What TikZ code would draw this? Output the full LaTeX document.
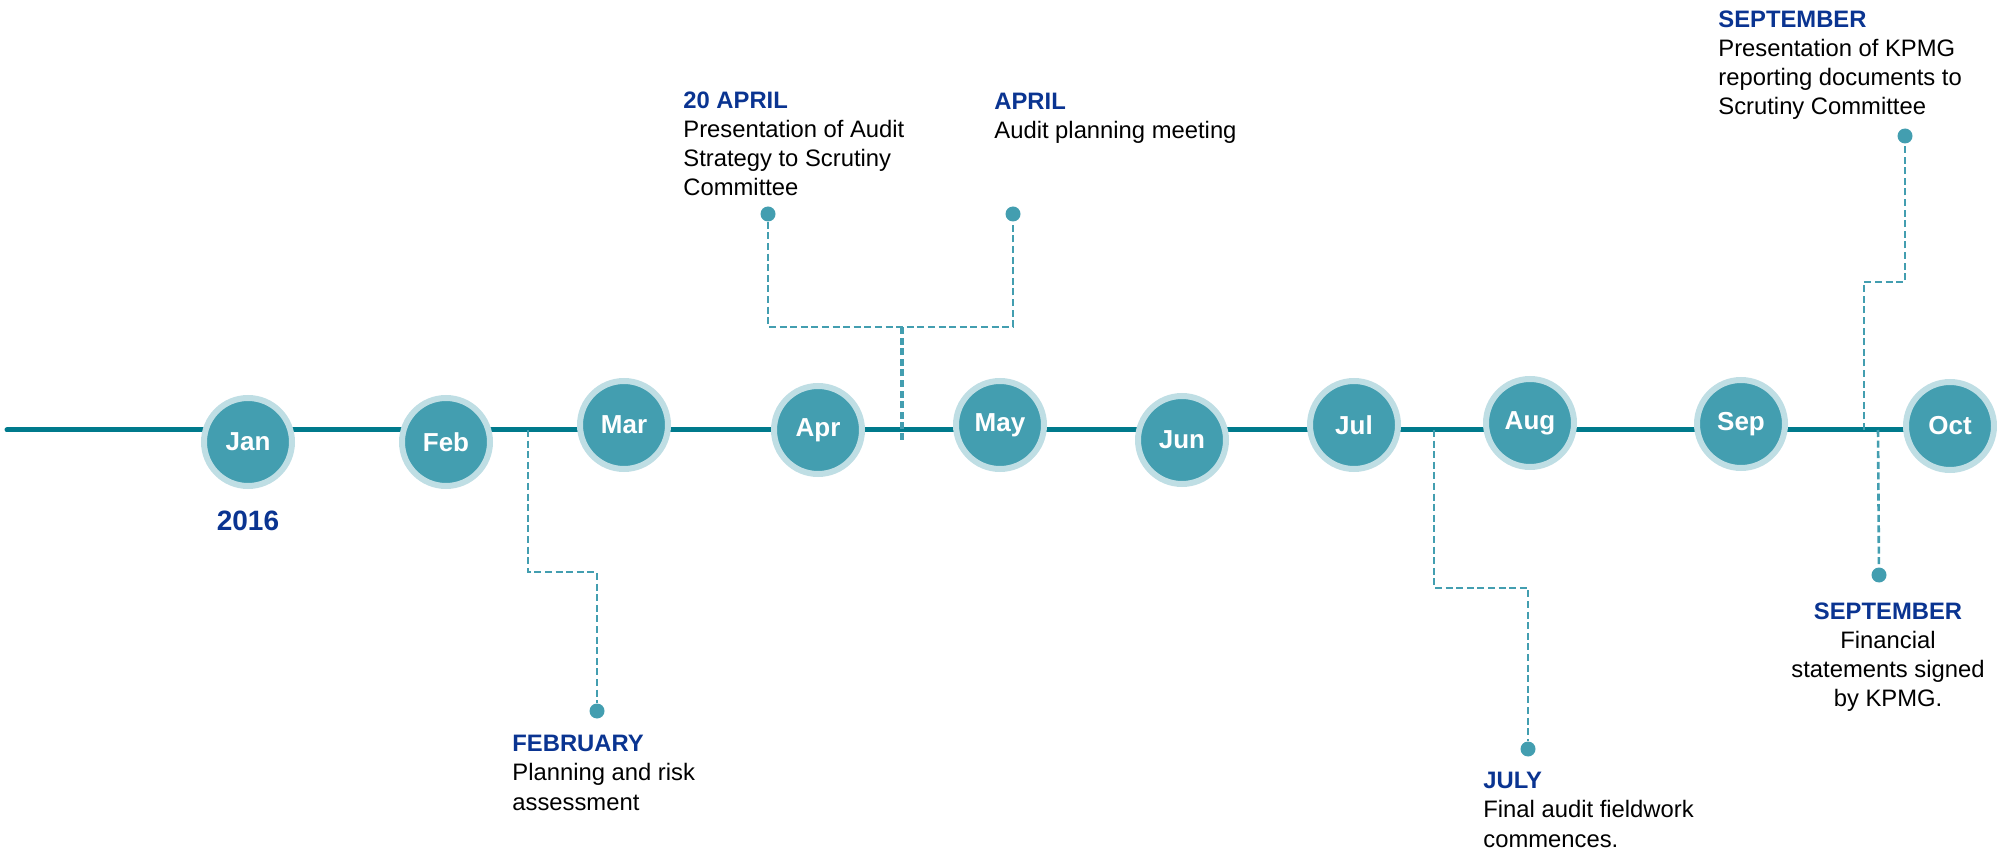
\documentclass[tikz,border=0pt]{standalone}
\usepackage{fontspec}
\setmainfont{Liberation Sans}
\usetikzlibrary{positioning}
\definecolor{lineteal}{RGB}{0,122,140}
\definecolor{monthfill}{RGB}{67,158,176}
\definecolor{monthring}{RGB}{191,222,228}
\definecolor{headblue}{RGB}{10,52,145}
\begin{document}
\begin{tikzpicture}[x=0.5pt, y=-0.5pt]
\tikzstyle{month} = [circle, minimum size=44pt, inner sep=0pt, fill=monthfill, draw=monthring, line width=3pt, text=white, font=\fontsize{13}{15}\selectfont\bfseries]
\tikzstyle{dot} = [circle, minimum size=7.5pt, inner sep=0pt, fill=monthfill]
\tikzstyle{link} = [draw=monthfill, line width=1.3pt, dash pattern=on 3.5pt off 1.8pt]
\tikzstyle{event} = [inner sep=0pt, align=left, font=\fontsize{11.9}{14.6}\selectfont]
\useasboundingbox (0,0) rectangle (1997,855);
\coordinate (start) at (7,430);
\coordinate (stop) at (1950,430);
\draw[lineteal, line width=2.5pt, line cap=round] (start) -- (stop);
\foreach \name/\x/\y in {Jan/248/442, Feb/446/442, Mar/624/425, Apr/818/430, May/1000/425, Jun/1182/440, Jul/1354/425, Aug/1530/423, Sep/1741/424, Oct/1950/426}
\node[month] (\name) at (\x,\y) {\name};
\node[below=11pt of Jan, inner sep=0pt, text=headblue, font=\fontsize{14}{16}\selectfont\bfseries] (year) {2016};
\coordinate (febtap) at (528,430);
\node[dot] (febdot) at (597,711) {};
\draw[link] (febtap) -- ++(0,142) -| (febdot);
\node[event, anchor=north west] (febtext) at (512,735) {{\color{headblue}\bfseries FEBRUARY}\\Planning and risk\\assessment};
\coordinate (aprtap) at (902,440);
\coordinate (aprfork) at (902,327);
\node[dot] (aprdot) at (768,214) {};
\node[dot] (meetdot) at (1013,214) {};
\draw[link, line width=2.4pt] (aprtap) -- (aprfork);
\draw[link] (aprdot) |- (aprfork) -| (meetdot);
\node[event, anchor=north west] (aprtext) at (683,91) {{\color{headblue}\bfseries 20 APRIL}\\Presentation of Audit\\Strategy to Scrutiny\\Committee};
\node[event, anchor=north west] (meettext) at (994,93) {{\color{headblue}\bfseries APRIL}\\Audit planning meeting};
\coordinate (jultap) at (1434,430);
\node[dot] (juldot) at (1528,749) {};
\draw[link] (jultap) -- ++(0,158) -| (juldot);
\node[event, anchor=north west] (jultext) at (1483,772) {{\color{headblue}\bfseries JULY}\\Final audit fieldwork\\commences.};
\coordinate (septap) at (1864,430);
\node[dot] (sepdot) at (1905,136) {};
\draw[link] (septap) -- ++(0,-148) -| (sepdot);
\node[event, anchor=north west] (septext) at (1718,10) {{\color{headblue}\bfseries SEPTEMBER}\\Presentation of KPMG\\reporting documents to\\Scrutiny Committee};
\coordinate (signtap) at (1878,430);
\node[dot] (signdot) at (1879,575) {};
\draw[link] (signtap) -- (signdot);
\node[event, anchor=north, align=center] (signtext) at (1888,602) {{\color{headblue}\bfseries SEPTEMBER}\\Financial\\statements signed\\by KPMG.};
\end{tikzpicture}
\end{document}
